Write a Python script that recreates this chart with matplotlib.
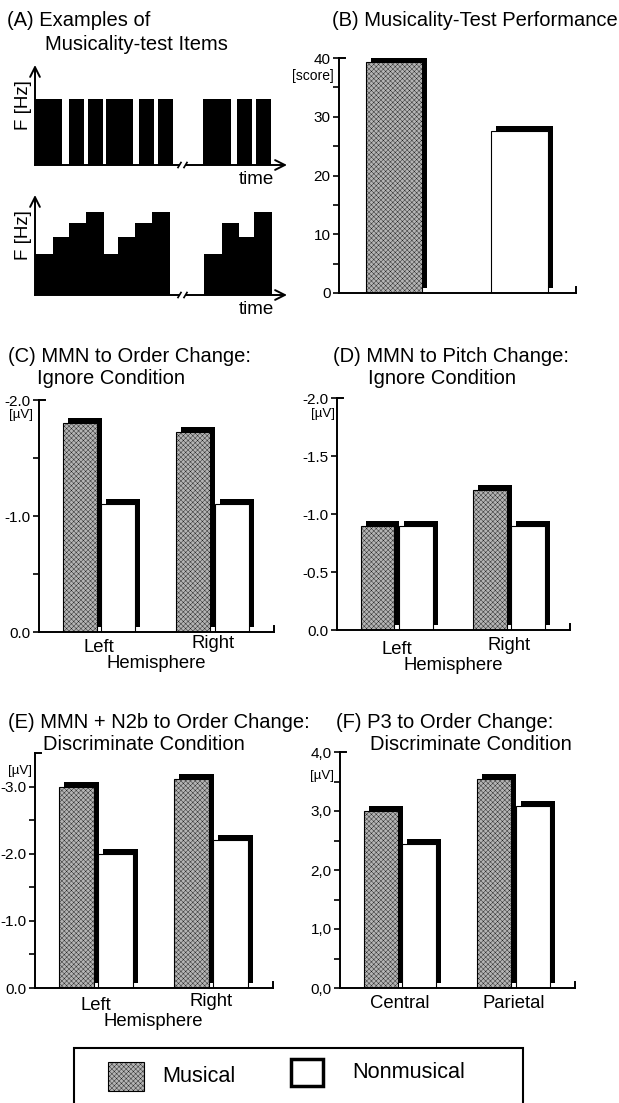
import matplotlib
matplotlib.use('Agg')
import matplotlib.pyplot as plt
from matplotlib.patches import Rectangle
from matplotlib import transforms

# ---- data ----
# (A) test items: note onsets / durations (time units) and frequency heights
rhythm_onsets = [0, 34, 53, 71, 104, 123, 168, 202, 221]
rhythm_durations = [27, 15, 15, 27, 15, 15, 28, 15, 15]
rhythm_freq = 66
melody_onsets = [0, 18, 34, 51, 69, 83, 100, 117, 169, 187, 204, 219]
melody_durations = [18, 16, 17, 18, 14, 17, 17, 18, 18, 17, 15, 18]
melody_freq = [41, 58, 72, 83, 41, 58, 72, 83, 41, 72, 58, 83]

# (B) musicality test score
score_musical = 39.3
score_nonmusical = 27.6

# (C)-(F) amplitudes [uV]
hemispheres = ['Left', 'Right']
sites = ['Central', 'Parietal']
mmn_order_musical = [-1.80, -1.72]
mmn_order_nonmusical = [-1.10, -1.10]
mmn_pitch_musical = [-0.90, -1.21]
mmn_pitch_nonmusical = [-0.90, -0.90]
n2b_musical = [-3.00, -3.12]
n2b_nonmusical = [-2.00, -2.21]
p3_musical = [3.00, 3.54]
p3_nonmusical = [2.44, 3.08]

W, H, DPI = 619, 1103, 100
FONT = 'Liberation Sans'
GRAY = '#b4b4b4'
TITLE = 14.5
plt.rcParams['font.family'] = [FONT, 'DejaVu Sans']
plt.rcParams['hatch.linewidth'] = 0.25

fig = plt.figure(figsize=(W / DPI, H / DPI), dpi=DPI)


def px_axes(x0, y0, x1, y1):
    return fig.add_axes([x0 / W, 1 - y1 / H, (x1 - x0) / W, (y1 - y0) / H])


def ftext(x, y, s, **kw):
    kw.setdefault('va', 'center')
    fig.text(x / W, 1 - y / H, s, **kw)


def style_axis(ax, box):
    x0, y0, x1, y1 = box
    for s in ['top', 'right']:
        ax.spines[s].set_visible(False)
    for s in ['left', 'bottom']:
        ax.spines[s].set_linewidth(1.4)
    ax.tick_params(axis='y', which='both', direction='out', length=4,
                   width=1.2, labelsize=11, pad=2)
    ax.tick_params(axis='x', length=0, labelbottom=False)
    # small stub at top of y-axis and at end of x-axis
    ax.plot([0, 6 / (x1 - x0)], [1, 1], transform=ax.transAxes,
            color='k', lw=1.4, clip_on=False)
    ax.plot([1, 1], [0, 6 / (y1 - y0)], transform=ax.transAxes,
            color='k', lw=1.4, clip_on=False)


def shadow_bars(ax, x, vals, width):
    shift = transforms.offset_copy(ax.transData, fig=fig, x=5, y=5, units='dots')
    ax.bar(x, vals, width, color='k', transform=shift, zorder=1)


def front_bars(ax, x, vals, width, musical):
    if musical:
        ax.bar(x, vals, width, facecolor=GRAY, edgecolor='k', hatch='xxxxxxx',
               linewidth=0.8, zorder=2)
    else:
        ax.bar(x, vals, width, facecolor='white', edgecolor='k',
               linewidth=0.8, zorder=2)


# ---- (A) examples of test items ----
ftext(7, 21, '(A) Examples of', fontsize=TITLE)
ftext(45, 44, 'Musicality-test Items', fontsize=TITLE)

arrow = dict(arrowstyle='->,head_length=0.7,head_width=0.35', lw=1.4, color='k',
             shrinkA=0, shrinkB=0)
for (y0, y1), onsets, durs, freqs in [((70, 165), rhythm_onsets, rhythm_durations,
                                       [rhythm_freq] * len(rhythm_onsets)),
                                      ((200, 295), melody_onsets, melody_durations,
                                       melody_freq)]:
    ax = px_axes(35, y0, 285, y1)
    ax.set_xlim(0, 250)
    ax.set_ylim(0, 95)
    ax.axis('off')
    ax.bar(onsets, freqs, durs, align='edge', color='k', linewidth=0)
    ax.plot([0, 144], [0, 0], color='k', lw=1.4, clip_on=False)
    ax.annotate('', xy=(252, 0), xytext=(151, 0), arrowprops=arrow,
                annotation_clip=False)
    ax.annotate('', xy=(0, 100), xytext=(0, 0), arrowprops=arrow,
                annotation_clip=False)
    for bx in (143, 149):
        ax.plot([bx, bx + 3], [-2.5, 2.5], color='k', lw=1.2, clip_on=False)
    ax.text(-12, 60, 'F [Hz]', rotation=90, ha='center', va='center', fontsize=13.5)
    ax.text(239, -15, 'time', ha='right', va='center', fontsize=13.5)

# ---- (B) musicality-test performance ----
ftext(332, 21, '(B) Musicality-Test Performance', fontsize=TITLE)
box = (339, 58, 576, 293)
ax = px_axes(*box)
style_axis(ax, box)
shadow_bars(ax, [0, 1], [score_musical, score_nonmusical], 0.45)
front_bars(ax, [0], [score_musical], 0.45, True)
front_bars(ax, [1], [score_nonmusical], 0.45, False)
ax.set_xlim(-0.44, 1.45)
ax.set_ylim(0, 40)
ax.set_yticks([0, 10, 20, 30, 40], ['0', '10', '20', '30', '40'])
ax.set_yticks([5, 15, 25, 35], minor=True)
ftext(334, 76, '[score]', ha='right', fontsize=10)


def group_panel(box, musical, nonmusical, ylim, ticks, labels, minor,
                cats, cat_dy, xlabel=None, xlabel_dy=34):
    ax = px_axes(*box)
    style_axis(ax, box)
    pos = [0, 1]
    off, w = 0.17, 0.30
    shadow_bars(ax, [p - off for p in pos], musical, w)
    shadow_bars(ax, [p + off for p in pos], nonmusical, w)
    front_bars(ax, [p - off for p in pos], musical, w, True)
    front_bars(ax, [p + off for p in pos], nonmusical, w, False)
    ax.set_xlim(-0.53, 1.54)
    ax.set_ylim(*ylim)
    ax.set_yticks(ticks, labels)
    ax.set_yticks(minor, minor=True)
    for p, c, dy in zip(pos, cats, cat_dy):
        ax.annotate(c, xy=(p, 0), xycoords=('data', 'axes fraction'),
                    xytext=(0, -dy), textcoords='offset pixels',
                    ha='center', va='center', fontsize=13.3)
    if xlabel:
        ax.annotate(xlabel, xy=(0.5, 0), xycoords=('data', 'axes fraction'),
                    xytext=(0, -xlabel_dy), textcoords='offset pixels',
                    ha='center', va='center', fontsize=13.3)
    return ax


# ---- (C) ----
ftext(8, 357, '(C) MMN to Order Change:', fontsize=TITLE)
ftext(37, 378, 'Ignore Condition', fontsize=TITLE)
group_panel((39, 400, 274, 632), mmn_order_musical, mmn_order_nonmusical,
            (0, -2.0), [0, -1, -2], ['0.0', '-1.0', '-2.0'], [-0.5, -1.5],
            hemispheres, [16, 11], 'Hemisphere', 31)
ftext(33, 415, '[µV]', ha='right', fontsize=9.5)

# ---- (D) ----
ftext(333, 357, '(D) MMN to Pitch Change:', fontsize=TITLE)
ftext(368, 378, 'Ignore Condition', fontsize=TITLE)
group_panel((337, 398, 570, 630), mmn_pitch_musical, mmn_pitch_nonmusical,
            (0, -2.0), [0, -0.5, -1, -1.5, -2],
            ['0.0', '-0.5', '-1.0', '-1.5', '-2.0'], [],
            hemispheres, [19, 16], 'Hemisphere', 35)
ftext(335, 414, '[µV]', ha='right', fontsize=9.5)

# ---- (E) ----
ftext(8, 722, '(E) MMN + N2b to Order Change:', fontsize=TITLE)
ftext(43, 745, 'Discriminate Condition', fontsize=TITLE)
group_panel((35, 753, 273, 988), n2b_musical, n2b_nonmusical,
            (0, -3.5), [0, -1, -2, -3], ['0.0', '-1.0', '-2.0', '-3.0'],
            [-0.5, -1.5, -2.5], hemispheres, [17, 14], 'Hemisphere', 34)
ftext(32, 771, '[µV]', ha='right', fontsize=9.5)

# ---- (F) ----
ftext(336, 722, '(F) P3 to Order Change:', fontsize=TITLE)
ftext(370, 745, 'Discriminate Condition', fontsize=TITLE)
group_panel((340, 752, 575, 988), p3_musical, p3_nonmusical,
            (0, 4.0), [0, 1, 2, 3, 4], ['0,0', '1,0', '2,0', '3,0', '4,0'],
            [0.5, 1.5, 2.5, 3.5], sites, [15, 15])
ftext(334, 776, '[µV]', ha='right', fontsize=9.5)

# ---- legend ----
fig.patches.append(Rectangle((74 / W, 1 - 1108 / H), (523 - 74) / W, (1108 - 1048) / H,
                             transform=fig.transFigure, fill=False, lw=1.5,
                             edgecolor='k'))
fig.patches.append(Rectangle((108 / W, 1 - 1091 / H), 36 / W, 29 / H,
                             transform=fig.transFigure, facecolor=GRAY,
                             edgecolor='k', hatch='xxxxxxx', lw=0.8))
fig.patches.append(Rectangle((291 / W, 1 - 1086 / H), 32 / W, 27 / H,
                             transform=fig.transFigure, facecolor='white',
                             edgecolor='k', lw=2.5))
ftext(162, 1077, 'Musical', fontsize=15.6)
ftext(352, 1073, 'Nonmusical', fontsize=15.6)

fig.savefig('out.png', dpi=DPI)
